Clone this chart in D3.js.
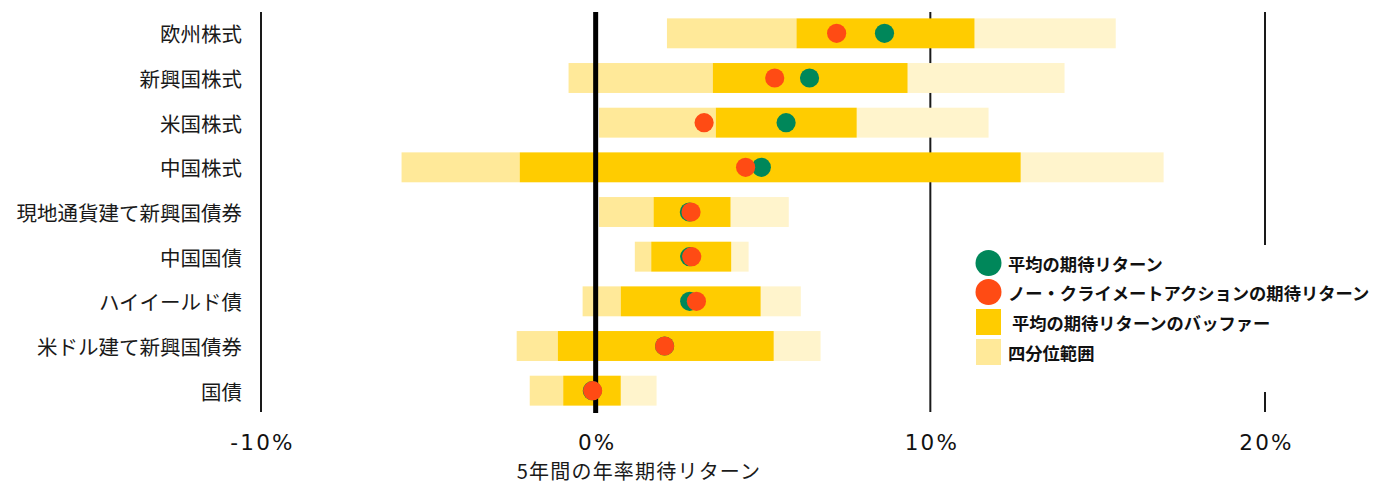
<!DOCTYPE html>
<html lang="ja">
<head>
<meta charset="utf-8">
<script src="https://cdn.jsdelivr.net/npm/d3@7"></script>
<style>
  html, body { margin: 0; padding: 0; background: #fff; }
  svg { display: block; }
  .cat { font-family: "Noto Sans CJK JP", sans-serif; font-size: 20.5px; fill: #1a1a1a; }
  .tick text { font-family: "DejaVu Sans", sans-serif; font-size: 21.5px; fill: #111; letter-spacing: 2.2px; }
  .xtitle { font-family: "Noto Sans CJK JP", sans-serif; font-size: 20px; letter-spacing: 1.2px; fill: #1a1a1a; }
  .leg { font-family: "Noto Sans CJK JP", sans-serif; font-size: 17.3px; font-weight: 700; fill: #111; white-space: pre; }
</style>
</head>
<body>
<svg id="chart" width="1386" height="484"></svg>
<script>
// Asset classes, top to bottom
const categories = [
  "欧州株式", "新興国株式", "米国株式", "中国株式",
  "現地通貨建て新興国債券", "中国国債", "ハイイールド債",
  "米ドル建て新興国債券", "国債"
];
// Interquartile range ends (% p.a.)
const iqrLow  = [2.13, -0.81, 0.10, -5.80, 0.10, 1.17, -0.39, -2.36, -1.97];
const iqrHigh = [15.54, 14.01, 11.74, 16.97, 5.77, 4.57, 6.13, 6.72, 1.82];
// Buffer around the mean expected return (% p.a.)
const bufferLow  = [6.00, 3.50, 3.59, -2.27, 1.73, 1.66, 0.75, -1.13, -0.97];
const bufferHigh = [11.32, 9.32, 7.80, 12.70, 4.03, 4.05, 4.93, 5.32, 0.75];
// Mean expected return and the no-climate-action expected return (% p.a.)
const meanReturn      = [8.63, 6.39, 5.69, 4.95, 2.80, 2.81, 2.81, 2.06, -0.10];
const noActionReturn  = [7.20, 5.35, 3.24, 4.48, 2.85, 2.87, 3.01, 2.06, -0.09];
// Axis ticks
const xTicks = [-10, 0, 10, 20];
const gridTicks = [-10, 10, 20];

const legendItems = [
  { label: "平均の期待リターン", kind: "circle", color: "#00875A" },
  { label: "ノー・クライメートアクションの期待リターン", kind: "circle", color: "#FF4B14" },
  { label: " 平均の期待リターンのバッファー", kind: "rect", color: "#FFCC00" },
  { label: "四分位範囲", kind: "rect", color: "#FFE999" }
];

const colors = {
  iqrLow: "#FFE999",
  iqrHigh: "#FFF4CC",
  buffer: "#FFCC00",
  mean: "#00875A",
  noAction: "#FF4B14",
  grid: "#1a1a1a"
};

const rows = categories.map((c, i) => ({
  cat: c,
  lo: iqrLow[i], hi: iqrHigh[i],
  bLo: bufferLow[i], bHi: bufferHigh[i],
  mean: meanReturn[i], noAction: noActionReturn[i]
}));

const svg = d3.select("#chart");

const x = d3.scaleLinear().domain([-10, 20]).range([261, 1265]);
const y = d3.scaleBand().domain(categories).range([11, 413])
  .paddingInner(0.33).paddingOuter(0.165);

const plotTop = 12, plotBottom = 412;

// Vertical gridlines behind the bars
svg.append("g").selectAll("line").data(gridTicks).join("line")
  .attr("x1", d => x(d)).attr("x2", d => x(d))
  .attr("y1", plotTop).attr("y2", plotBottom)
  .attr("stroke", colors.grid).attr("stroke-width", 2);

// Range bars
const bars = svg.append("g");
bars.selectAll("rect.lo").data(rows).join("rect").attr("class", "lo")
  .attr("x", d => x(d.lo)).attr("width", d => x(d.bLo) - x(d.lo))
  .attr("y", d => y(d.cat)).attr("height", y.bandwidth())
  .attr("fill", colors.iqrLow);
bars.selectAll("rect.hi").data(rows).join("rect").attr("class", "hi")
  .attr("x", d => x(d.bHi)).attr("width", d => x(d.hi) - x(d.bHi))
  .attr("y", d => y(d.cat)).attr("height", y.bandwidth())
  .attr("fill", colors.iqrHigh);
bars.selectAll("rect.buf").data(rows).join("rect").attr("class", "buf")
  .attr("x", d => x(d.bLo)).attr("width", d => x(d.bHi) - x(d.bLo))
  .attr("y", d => y(d.cat)).attr("height", y.bandwidth())
  .attr("fill", colors.buffer);

// Zero line
svg.append("line")
  .attr("x1", x(0)).attr("x2", x(0))
  .attr("y1", plotTop).attr("y2", plotBottom + 1)
  .attr("stroke", "#000").attr("stroke-width", 5);

// Return markers
const r = 9.6;
svg.append("g").selectAll("circle").data(rows).join("circle")
  .attr("cx", d => x(d.mean)).attr("cy", d => y(d.cat) + y.bandwidth() / 2)
  .attr("r", r).attr("fill", colors.mean);
svg.append("g").selectAll("circle").data(rows).join("circle")
  .attr("cx", d => x(d.noAction)).attr("cy", d => y(d.cat) + y.bandwidth() / 2)
  .attr("r", r).attr("fill", colors.noAction);

// Category labels
svg.append("g").selectAll("text").data(categories).join("text")
  .attr("class", "cat")
  .attr("x", 242).attr("y", d => y(d) + y.bandwidth() / 2)
  .attr("text-anchor", "end").attr("dominant-baseline", "central")
  .text(d => d);

// X axis labels
const xAxis = d3.axisBottom(x).tickValues(xTicks).tickSize(0).tickPadding(0)
  .tickFormat(d => d + "%");
const ax = svg.append("g").attr("transform", "translate(1,434.7)").call(xAxis);
ax.select(".domain").remove();

svg.append("text").attr("class", "xtitle")
  .attr("x", 639).attr("y", 470.5)
  .attr("text-anchor", "middle").attr("dominant-baseline", "central")
  .text("5年間の年率期待リターン");

// Legend on a white panel
const leg = svg.append("g");
leg.append("rect").attr("x", 962).attr("y", 245).attr("width", 420).attr("height", 147)
  .attr("fill", "#fff");
const legY = [263, 292, 322, 352];
legendItems.forEach((it, i) => {
  const cy = legY[i];
  if (it.kind === "circle") {
    leg.append("circle").attr("cx", 988.5).attr("cy", cy).attr("r", 13).attr("fill", it.color);
  } else {
    leg.append("rect").attr("x", 976).attr("y", cy - 13).attr("width", 25).attr("height", 26)
      .attr("fill", it.color);
  }
  leg.append("text").attr("class", "leg")
    .attr("x", 1008).attr("y", cy)
    .attr("dominant-baseline", "central")
    .text(it.label);
});
</script>
</body>
</html>
